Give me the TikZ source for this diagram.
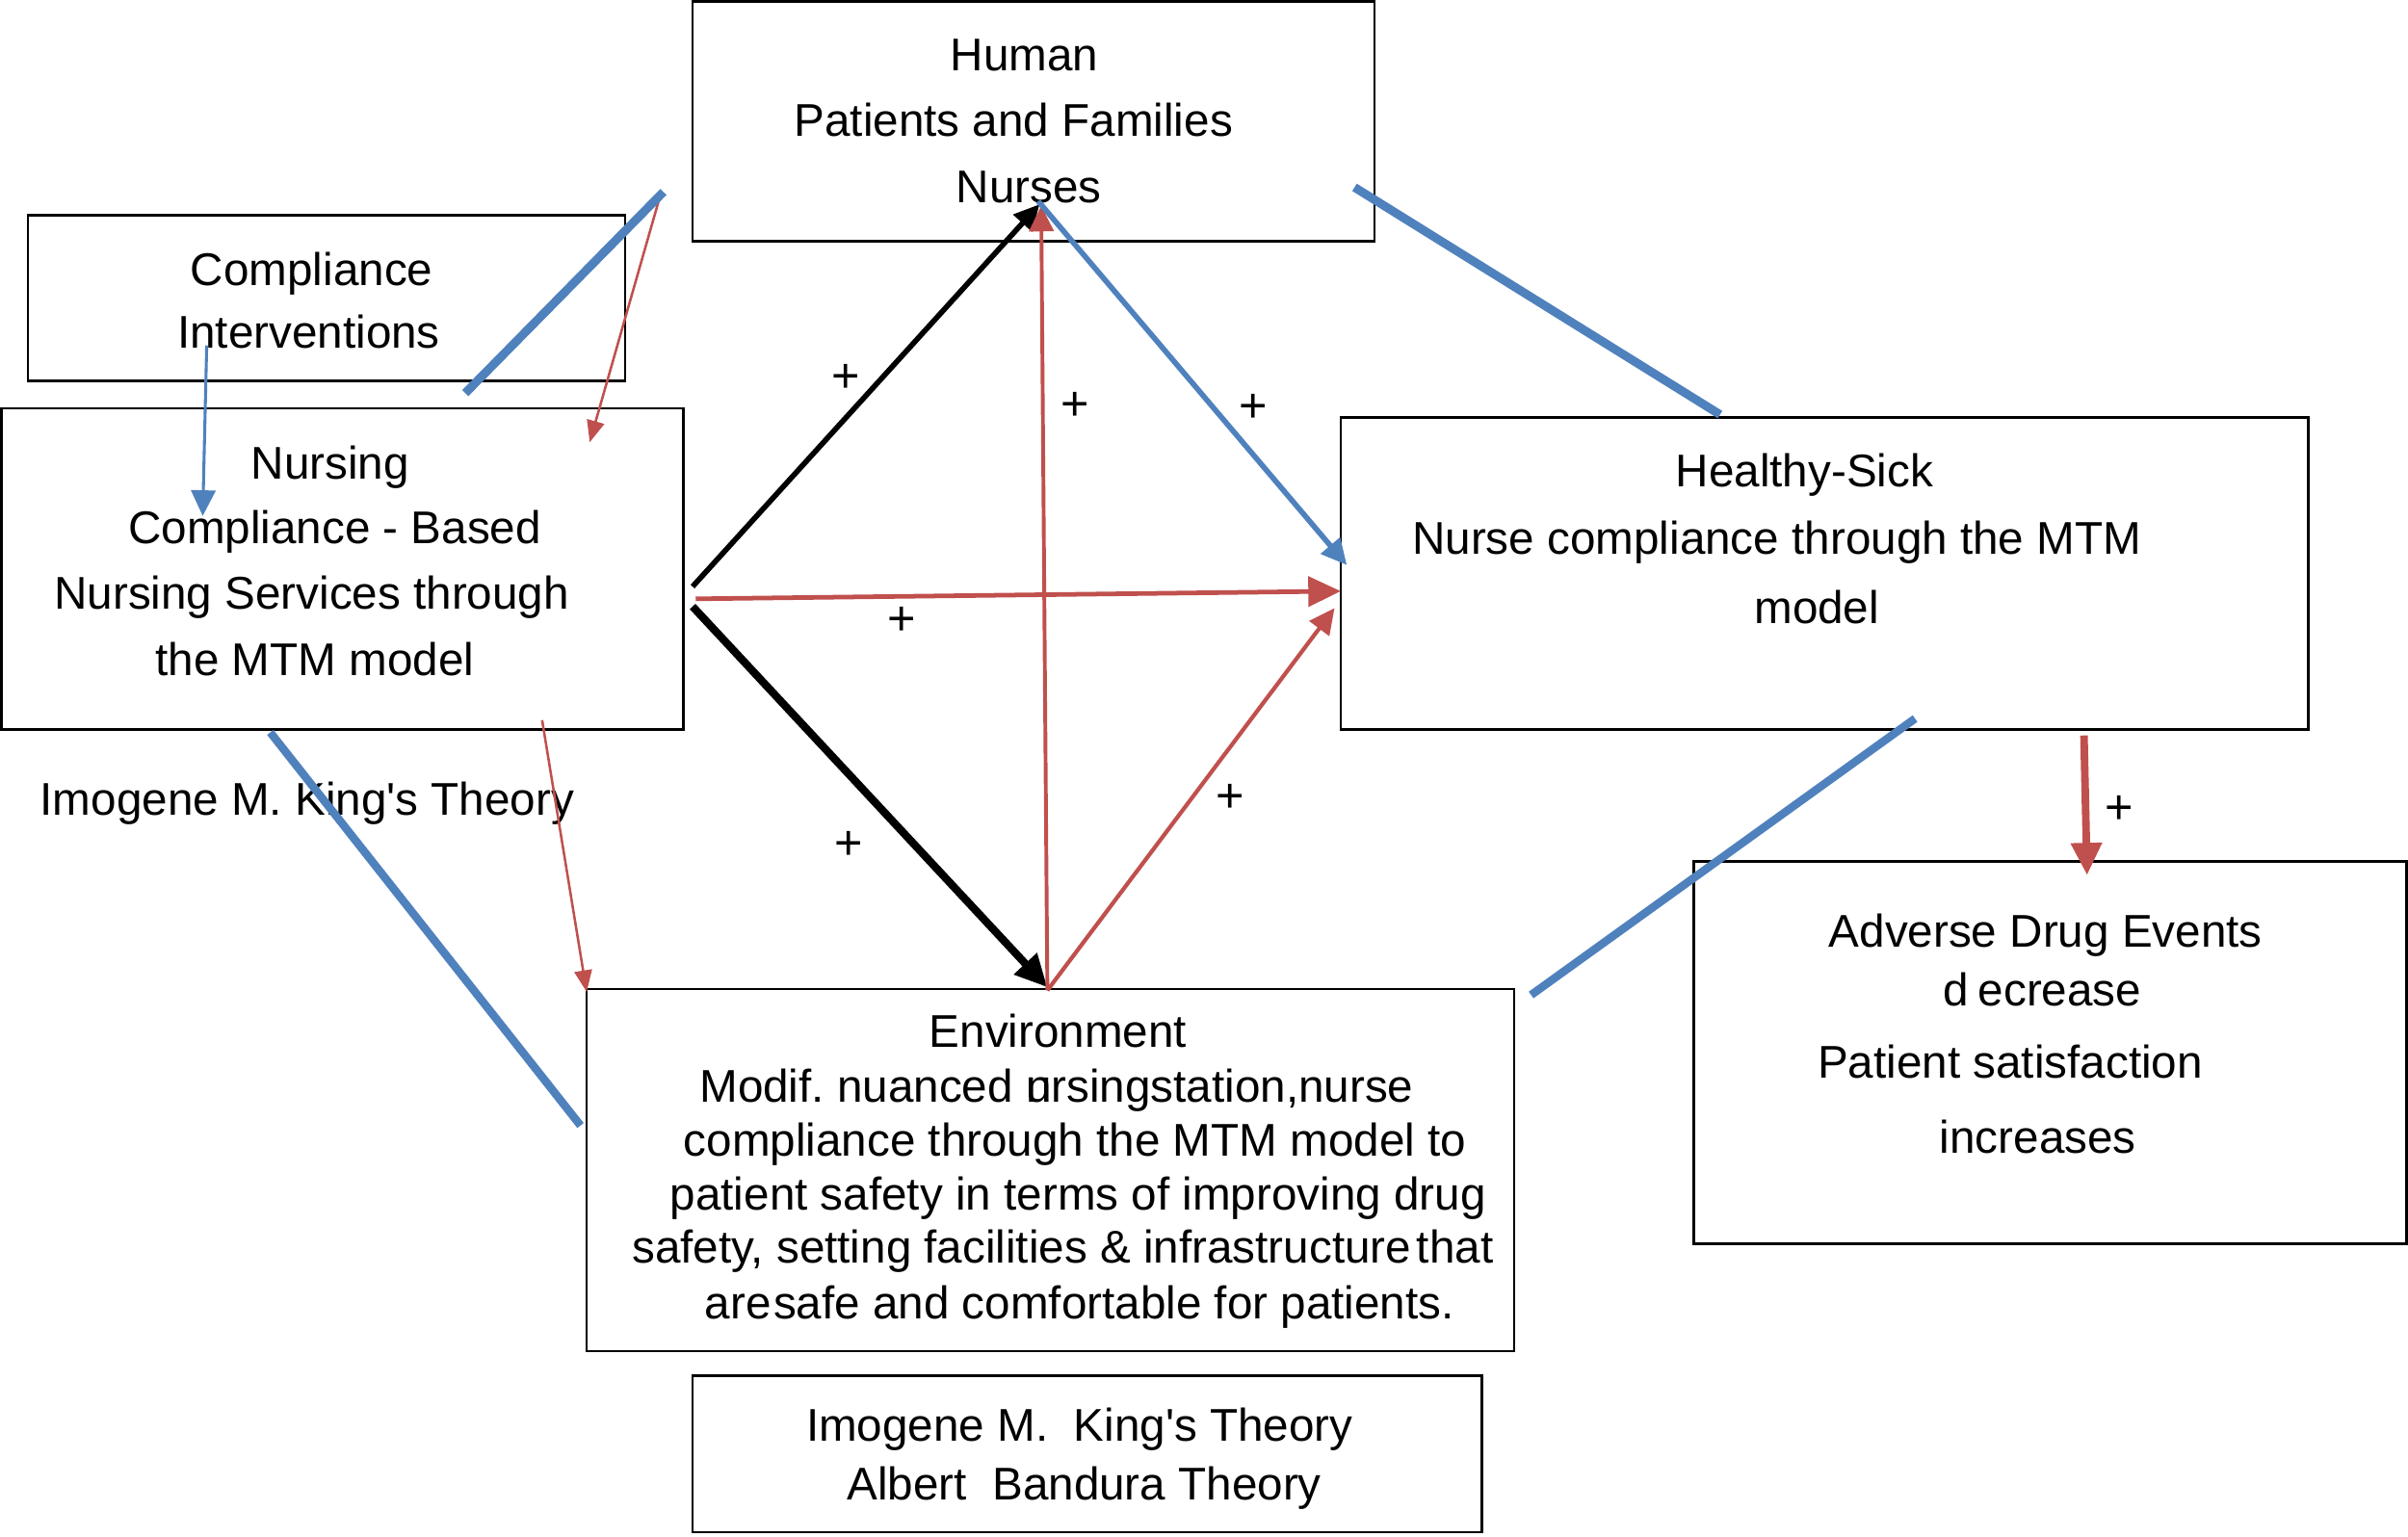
\documentclass[tikz,border=0pt]{standalone}
\usepackage{fontspec}
\setmainfont{Liberation Sans}[Ligatures=TeXOff]
\usetikzlibrary{arrows.meta}
\definecolor{ored}{HTML}{C0504D}
\definecolor{oblue}{HTML}{4F81BD}
\frenchspacing
\tikzset{
  boxnode/.style={draw=black, line width=0.9pt, inner sep=0pt},
  txt/.style={inner sep=0pt, text height=1.12em, text depth=0pt, anchor=center, font=\fontsize{17pt}{20pt}\selectfont},
  plus/.style={txt, font=\fontsize{18pt}{20pt}\selectfont},
  tipS/.style={-{Triangle[length=8pt,width=6.5pt]}},
  tipM/.style={-{Triangle[length=9.5pt,width=9pt]}},
  tipL/.style={-{Triangle[length=12pt,width=11pt]}},
  blk/.style={draw=black},
  redl/.style={draw=ored},
  bluel/.style={draw=oblue},
}
\begin{document}
\begin{tikzpicture}[x=0.02cm,y=-0.02cm]
\useasboundingbox (0,0) rectangle (1568,1000.4);
\fill[white] (0,0) rectangle (1568,1000.4);

% boxes
\node[boxnode, minimum width=8.88cm, minimum height=3.12cm] (human) at (673,79) {};
\node[boxnode, minimum width=7.78cm, minimum height=2.16cm] (compl) at (212.5,194) {};
\node[boxnode, minimum width=8.88cm, minimum height=4.18cm] (nursing) at (223,370.5) {};
\node[boxnode, minimum width=12.6cm, minimum height=4.06cm] (healthy) at (1188,373.5) {};
\node[boxnode, minimum width=12.08cm, minimum height=4.72cm] (env) at (684,762) {};
\node[boxnode, minimum width=10.28cm, minimum height=2.04cm] (theory) at (708,947) {};
\node[boxnode, minimum width=9.28cm, minimum height=4.98cm] (ade) at (1335,685.5) {};

% texts
\node[txt] (h1) at (667,36) {Human};
\node[txt] (h2) at (660,79) {Patients and Families};
\node[txt] (h3) at (670,122) {Nurses};

\node[txt] (c1) at (203,176) {Compliance};
\node[txt] (c2) at (201,217) {Interventions};

\node[txt] (n1) at (215,302) {Nursing};
\node[txt] (n2) at (218,344) {Compliance - Based};
\node[txt] (n3) at (203,387) {Nursing Services through};
\node[txt] (n4) at (205,430) {the MTM model};

\node[txt] (k1) at (200,521) {Imogene M. King's Theory};

\node[txt] (s1) at (1175,307) {Healthy-Sick};
\node[txt] (s2) at (1157,351) {Nurse compliance through the MTM};
\node[txt] (s3) at (1183,396) {model};

\node[txt] (e1) at (689,672) {Environment};
\node[txt] (e2) at (688,708) {Modif. nuanced \rlap{n}ursingstation,nurse};
\node[txt] (e3) at (700,743) {compliance through the MTM model to};
\node[txt] (e4) at (702,778) {patient safety in terms of improving drug};
\node[txt] (e5) at (692,813) {safety, setting facilities \& infrastructure\hspace{0.12em}that};
\node[txt] (e6) at (703,849) {are\hspace{0.05em}safe and comfortable for patients.};

\node[txt] (t1) at (703,929) {Imogene M.\ \ King's Theory};
\node[txt] (t2) at (706,967) {Albert\ \ Bandura Theory};

\node[txt] (a1) at (1332,607) {Adverse Drug Events};
\node[txt] (a2) at (1330,645) {d\hspace{0.2em}ecrease};
\node[txt] (a3) at (1309,692) {Patient satisfaction};
\node[txt] (a4) at (1327,741) {increases};

% plus labels
\node[plus] (p1) at (551,246) {+};
\node[plus] (p2) at (700,264) {+};
\node[plus] (p3) at (816,265) {+};
\node[plus] (p4) at (587,404) {+};
\node[plus] (p5) at (553,550) {+};
\node[plus] (p6) at (801,519) {+};
\node[plus] (p7) at (1380,527) {+};

% connector end points
\coordinate (nurR1) at (451,382);
\coordinate (nurR2) at (451,395);
\coordinate (nurR3) at (453,390);
\coordinate (nursesTip) at (677,133);
\coordinate (nursesTipR) at (678,134);
\coordinate (nursesB) at (676,131);
\coordinate (envTop) at (682,643);
\coordinate (envTopR) at (682,645);
\coordinate (hsL1) at (873,385);
\coordinate (hsL2) at (869,396);
\coordinate (hsL3) at (877,368);
\coordinate (topRed) at (430,127);
\coordinate (nurTopR) at (384,288);
\coordinate (nurBotR) at (353,469);
\coordinate (envTopL) at (382,646);
\coordinate (hsBot) at (1357,479);
\coordinate (adeTop) at (1359,570);
\coordinate (ciIn) at (134.6,225);
\coordinate (nurIn) at (132,336);
\coordinate (bl1a) at (432,125);
\coordinate (bl1b) at (303,256);
\coordinate (bl2a) at (882,122);
\coordinate (bl2b) at (1120,270);
\coordinate (bl3a) at (176,477);
\coordinate (bl3b) at (378,733);
\coordinate (bl4a) at (1247,468);
\coordinate (bl4b) at (997,648);

% black arrows
\draw[blk, line width=2pt, tipM] (nurR1) -- (nursesTip);
\draw[blk, line width=2.9pt, tipL] (nurR2) -- (envTop);

% red arrows
\draw[redl, line width=1.7pt, tipL] (nurR3) -- (hsL1);
\draw[redl, line width=1.4pt, tipM] (envTopR) -- (nursesTipR);
\draw[redl, line width=1.5pt, tipM] (envTopR) -- (hsL2);
\draw[redl, line width=0.9pt, tipS] (topRed) -- (nurTopR);
\draw[redl, line width=0.9pt, tipS] (nurBotR) -- (envTopL);
\draw[redl, line width=2.8pt, tipL] (hsBot) -- (adeTop);

% blue lines
\draw[bluel, line width=1.1pt, tipM] (ciIn) -- (nurIn);
\draw[bluel, line width=2pt, tipM] (nursesB) -- (hsL3);
\draw[bluel, line width=3.2pt] (bl1a) -- (bl1b);
\draw[bluel, line width=3.2pt] (bl2a) -- (bl2b);
\draw[bluel, line width=3pt] (bl3a) -- (bl3b);
\draw[bluel, line width=3pt] (bl4a) -- (bl4b);
\end{tikzpicture}
\end{document}
